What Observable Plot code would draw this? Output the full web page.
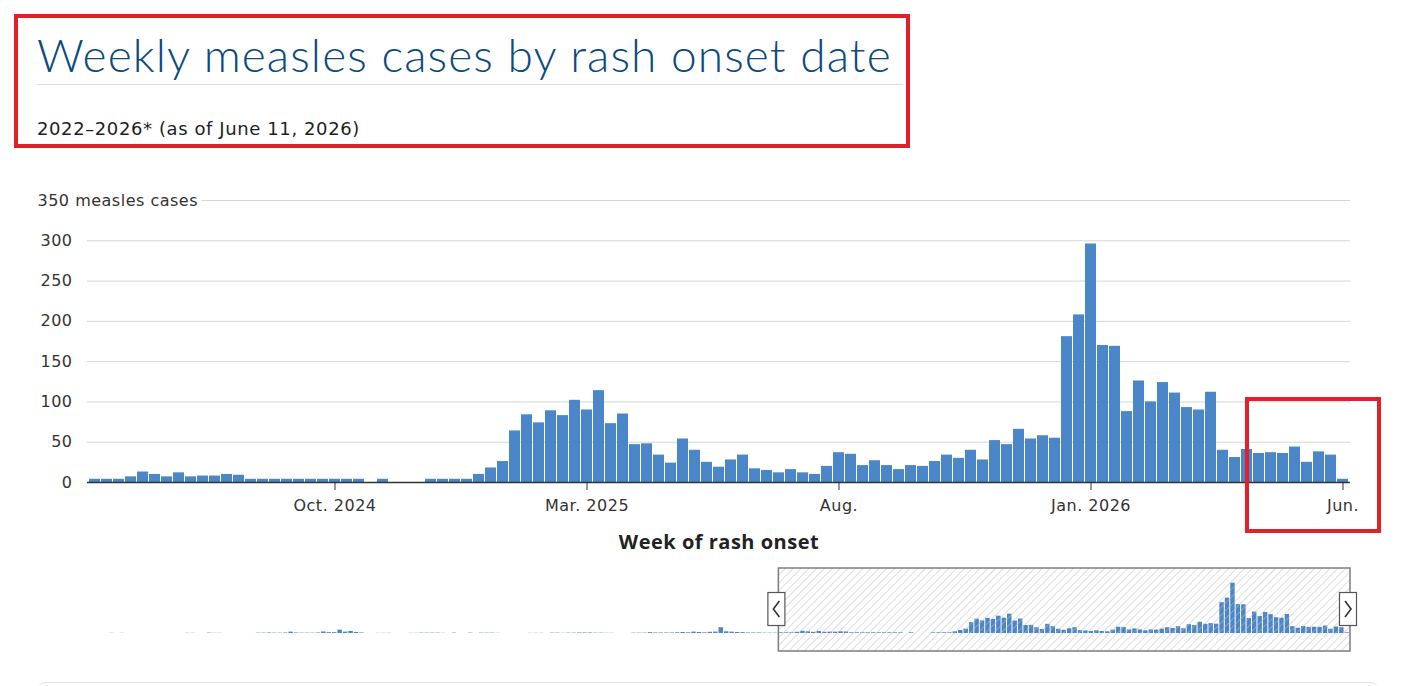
<!DOCTYPE html>
<html><head><meta charset="utf-8">
<script src="https://cdn.jsdelivr.net/npm/d3@7"></script>
<script src="https://cdn.jsdelivr.net/npm/@observablehq/plot@0.6"></script>
<style>
html,body{margin:0;padding:0;background:#fff;}
body{width:1406px;height:686px;overflow:hidden;position:relative;font-family:"Open Sans",sans-serif;}
#title{position:absolute;left:37px;top:30px;font-family:Lato,sans-serif;font-weight:300;font-size:46px;line-height:50px;letter-spacing:1.1px;color:#0d4a7e;white-space:nowrap;}
#rule{position:absolute;left:37px;top:84px;width:866px;height:1px;background:#dedede;}
#sub{position:absolute;left:37px;top:117px;font-family:"DejaVu Sans",sans-serif;font-size:18px;letter-spacing:0.6px;line-height:24px;color:#1e1e1e;white-space:nowrap;}
#main{position:absolute;left:0;top:180px;}
#nav{position:absolute;left:0;top:560px;}
.redbox{position:absolute;border:4px solid #e3202a;box-sizing:border-box;}
#card{position:absolute;left:38px;top:682px;width:1340px;height:40px;border:1px solid #e2e2e2;border-radius:8px;box-sizing:border-box;}
</style>
</head><body>
<svg width="0" height="0" style="position:absolute">
  <defs>
    <pattern id="hatch" patternUnits="userSpaceOnUse" width="5.5" height="5.5" patternTransform="rotate(45)">
      <line x1="0" y1="0" x2="0" y2="5.5" stroke="#bcbcbc" stroke-width="1"/>
    </pattern>
  </defs>
</svg>
<div id="title">Weekly measles cases by rash onset date</div>
<div id="rule"></div>
<div id="sub">2022–2026* (as of June 11, 2026)</div>
<div id="main"></div>
<div id="nav"></div>
<div id="card"></div>
<div class="redbox" style="left:14px;top:14px;width:896px;height:134px;"></div>
<div class="redbox" style="left:1245px;top:397px;width:136px;height:136px;"></div>
<script>
// Weekly case counts shown in the main (zoomed) chart, oldest first
const mainCases = [
  4,4,4,7,13,10,7,12,7,8,8,10,9,
  4,4,4,4,4,4,4,4,4,4,
  0,4,0,0,0,
  4,4,4,4,10,18,26,64,84,74,89,83,102,90,114,73,85,47,48,34,24,54,40,25,19,28,34,17,
  15,12,16,12,10,20,37,35,21,27,21,16,21,20,26,34,30,40,28,52,47,66,54,58,55,
  181,208,296,170,169,88,126,100,124,111,93,90,112,40,31,41,36,37,36,44,25,38,34,4
];
// Earlier weekly counts visible only in the navigator (from 2022)
const earlyCases = [
  0,0,0,0,1,0,1,0,0,0,
  0,0,0,0,0,0,0,0,1,1,
  0,0,2,1,1,0,0,0,0,0,
  0,2,2,3,2,2,3,8,3,2,
  2,2,3,9,5,5,20,8,12,6,
  3,0,0,1,1,1,0,0,0,1,
  1,2,2,2,2,1,0,2,0,0,
  2,0,2,2,2,1,0,0,0,0,
  0,1,1,1,0,2,2,1,2,2,
  3,3,3,2,2,1,1,0,0,0,
  2,2,2,5,3,3,3,3,4,6,
  4,8,6,4,7,8,34,10,8,6,
  5,3,3,3,2,2,2
];
// x-axis tick weeks (index in mainCases) and labels
const tickWeeks = [20, 41, 62, 83, 104];
const tickLabels = ["Oct. 2024", "Mar. 2025", "Aug.", "Jan. 2026", "Jun."];
const yTicks = [0, 50, 100, 150, 200, 250, 300, 350];
const yTopLabel = "measles cases";
const xTitle = "Week of rash onset";
const barColor = "#4a86c8";

const weeks = mainCases.map((v, i) => ({i, v}));
const labelOf = new Map(tickWeeks.map((w, k) => [w, tickLabels[k]]));
const topTick = yTicks[yTicks.length - 1];

const main = Plot.plot({
  width: 1406, height: 380,
  marginLeft: 87, marginRight: 56, marginTop: 20, marginBottom: 78,
  style: {fontFamily: "'DejaVu Sans', sans-serif", fontSize: "16px", letterSpacing: "0.5px", color: "#333", background: "transparent", overflow: "visible"},
  x: {type: "band", domain: d3.range(mainCases.length), paddingInner: 0.08, paddingOuter: 0.02, axis: null},
  y: {domain: [0, topTick], axis: null},
  marks: [
    Plot.gridY(yTicks.filter(d => d > 0), {stroke: "#d6d6d6", strokeOpacity: 1}),
    Plot.barY(weeks, {x: "i", y: "v", fill: barColor}),
    Plot.ruleY([0], {stroke: "#333", strokeWidth: 1.5}),
    Plot.axisY(yTicks.filter(d => d < topTick), {tickSize: 0, tickPadding: 15, label: null, fill: "#333"}),
    Plot.text([topTick], {y: d => d, frameAnchor: "left", dx: -50, textAnchor: "start",
      text: d => `${d} ${yTopLabel}`, fill: "#333", stroke: "white", strokeWidth: 10}),
    Plot.axisX(tickWeeks, {tickFormat: d => labelOf.get(d), tickSize: 8, tickPadding: 9, label: null, fill: "#333"}),
    Plot.text([xTitle], {frameAnchor: "bottom", dy: 60, lineAnchor: "middle", fontFamily: "'Open Sans', sans-serif", fontWeight: "bold", fontSize: 20, fill: "#222"})
  ]
});
document.getElementById("main").append(main);

// Navigator
const allCases = earlyCases.concat(mainCases);
const navData = allCases.map((v, i) => ({i, v}));
const sel0 = earlyCases.length, sel1 = allCases.length;
const nav = Plot.plot({
  width: 1406, height: 100,
  marginLeft: 87, marginRight: 56, marginTop: 8, marginBottom: 9,
  style: {background: "transparent", overflow: "visible"},
  x: {type: "linear", domain: [0, allCases.length], axis: null},
  y: {domain: [0, 300], range: [73, 22], axis: null},
  marks: [
    Plot.rectY(navData, {x1: "i", x2: d => d.i + 1, y: "v", fill: barColor, insetRight: 1}),
    Plot.rect([0], {x1: sel0, x2: sel1, fill: "url(#hatch)", stroke: "#7d7d7d", strokeWidth: 1.5})
  ]
});
document.getElementById("nav").append(nav);

// Handles
const sx = nav.scale("x");
const svg = d3.select(nav);
const cy = 49;
for (const [v, dir] of [[sel0, -1], [sel1, 1]]) {
  const cx = sx.apply(v) - 2;
  const g = svg.append("g");
  g.append("rect").attr("x", cx - 8.5).attr("y", cy - 16.5).attr("width", 17).attr("height", 33)
    .attr("fill", "white").attr("stroke", "#555").attr("stroke-width", 1.2);
  const a = 3 * dir;
  g.append("path").attr("d", `M${cx - a},${cy - 8}L${cx + a},${cy}L${cx - a},${cy + 8}`)
    .attr("fill", "none").attr("stroke", "#333").attr("stroke-width", 1.6);
}
</script>
</body></html>
